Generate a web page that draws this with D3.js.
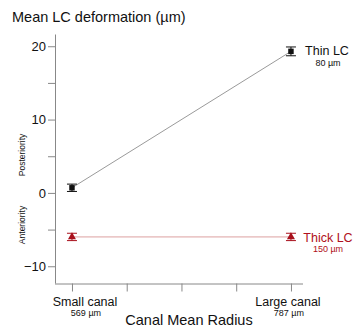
<!DOCTYPE html>
<html>
<head>
<meta charset="utf-8">
<script src="https://cdn.jsdelivr.net/npm/d3@7"></script>
<style>
  html, body { margin: 0; padding: 0; background: #fff; }
  svg { display: block; font-family: "Liberation Sans", Arial, sans-serif; }
</style>
</head>
<body>
<svg id="chart" width="360" height="329"></svg>
<script>
// Canal groups (x positions on a 0..4 scale) and their mean radii
const categories = ["Small canal", "Large canal"];
const categoryRadius = ["569 µm", "787 µm"];
const categoryPos = [0, 4];

// Mean LC deformation (µm) and error half-widths per group
const thinValues = [0.7, 19.3];
const thinErrors = [0.5, 0.6];
const thickValues = [-6.0, -6.0];
const thickErrors = [0.5, 0.5];

const seriesNames = ["Thin LC", "Thick LC"];
const seriesSub = ["80 µm", "150 µm"];

const yTicks = [-10, 0, 10, 20];
const yMinorTicks = [-5, 5, 15];
const xTicks = [0, 1, 2, 3, 4];

const svg = d3.select("#chart");

const x = d3.scaleLinear().domain([-0.31, 4.22]).range([55, 303]);
const y = d3.scaleLinear().domain([-12.35, 21.6]).range([283.5, 34.5]);

// Y axis
const yAxis = svg.append("g").attr("transform", "translate(55,0)")
  .call(d3.axisLeft(y).tickValues(yTicks).tickSize(7).tickPadding(2).tickFormat(d3.format("d")));
yAxis.select(".domain").attr("stroke", "#888").attr("d", `M0.5,${y.range()[1]}V${y.range()[0]}`);
yAxis.selectAll(".tick line").attr("stroke", "#888");
yAxis.selectAll(".tick text").attr("font-size", 13).attr("fill", "#111");
yAxis.selectAll(".minor").data(yMinorTicks).enter().append("line")
  .attr("x1", -7).attr("x2", 0)
  .attr("y1", d => y(d) + 0.5).attr("y2", d => y(d) + 0.5)
  .attr("stroke", "#888");

// X axis
const xAxis = svg.append("g").attr("transform", `translate(0,${y.range()[0]})`)
  .call(d3.axisBottom(x).tickValues(xTicks).tickSize(8).tickFormat(""));
xAxis.select(".domain").attr("stroke", "#888").attr("d", `M${x.range()[0]},0.5H${x.range()[1]}`);
xAxis.selectAll(".tick line").attr("stroke", "#888");

// Category labels, set slightly right of their ticks
const labelShift = [13, -3];
categories.forEach((c, i) => {
  const lx = x(categoryPos[i]) + labelShift[i];
  svg.append("text").attr("x", lx).attr("y", 306)
    .attr("text-anchor", "middle").attr("font-size", 12.5).attr("fill", "#111").text(c);
  svg.append("text").attr("x", lx + 1).attr("y", 316)
    .attr("text-anchor", "middle").attr("font-size", 9).attr("fill", "#111").text(categoryRadius[i]);
});

// Titles
svg.append("text").attr("x", 189).attr("y", 325).attr("text-anchor", "middle")
  .attr("font-size", 14.5).attr("fill", "#111").text("Canal Mean Radius");
svg.append("text").attr("x", 12).attr("y", 22)
  .attr("font-size", 14.5).attr("fill", "#111").text("Mean LC deformation (µm)");

// Direction labels along the y axis
[["Posteriority", 155], ["Anteriority", 225]].forEach(([t, cy]) => {
  svg.append("text").attr("transform", `translate(25,${cy}) rotate(-90)`)
    .attr("text-anchor", "middle").attr("font-size", 8.5).attr("fill", "#111").text(t);
});

function drawSeries(vals, errs, lineColor, markColor, shape) {
  const pts = vals.map((v, i) => [x(categoryPos[i]), y(v)]);
  svg.append("path").attr("d", d3.line()(pts)).attr("fill", "none")
    .attr("stroke", lineColor).attr("stroke-width", 1);
  vals.forEach((v, i) => {
    const cx = x(categoryPos[i]);
    const g = svg.append("g").attr("stroke", markColor).attr("stroke-width", 1);
    g.append("line").attr("x1", cx).attr("x2", cx).attr("y1", y(v - errs[i])).attr("y2", y(v + errs[i]));
    [v - errs[i], v + errs[i]].forEach(e => {
      g.append("line").attr("x1", cx - 5).attr("x2", cx + 5).attr("y1", y(e)).attr("y2", y(e));
    });
    svg.append("path")
      .attr("d", d3.symbol().type(shape).size(shape === d3.symbolSquare ? 30 : 28)())
      .attr("transform", `translate(${cx},${y(v)})`)
      .attr("fill", markColor);
  });
}

drawSeries(thinValues, thinErrors, "#9a9a9a", "#111", d3.symbolSquare);
drawSeries(thickValues, thickErrors, "#dca0a0", "#a8101c", d3.symbolTriangle);

// Series labels at the right end
const labelX = 327;
svg.append("text").attr("x", labelX).attr("y", y(thinValues[1]) + 4).attr("text-anchor", "middle")
  .attr("font-size", 12.5).attr("fill", "#111").text(seriesNames[0]);
svg.append("text").attr("x", labelX + 1).attr("y", y(thinValues[1]) + 15).attr("text-anchor", "middle")
  .attr("font-size", 9).attr("fill", "#111").text(seriesSub[0]);
svg.append("text").attr("x", labelX + 1).attr("y", y(thickValues[1]) + 5).attr("text-anchor", "middle")
  .attr("font-size", 12.5).attr("fill", "#b01020").text(seriesNames[1]);
svg.append("text").attr("x", labelX + 1).attr("y", y(thickValues[1]) + 15).attr("text-anchor", "middle")
  .attr("font-size", 9).attr("fill", "#b01020").text(seriesSub[1]);
</script>
</body>
</html>
